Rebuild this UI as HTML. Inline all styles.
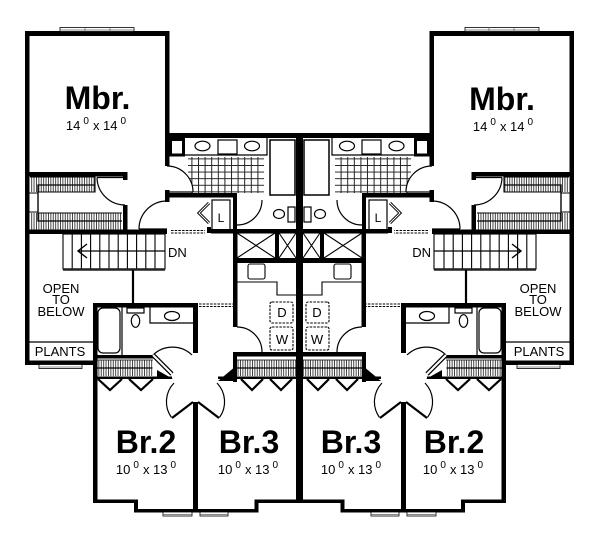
<!DOCTYPE html>
<html><head><meta charset="utf-8"><style>
html,body{margin:0;padding:0;background:#fff;}
svg{display:block;}
text{font-family:"Liberation Sans",Arial,sans-serif;fill:#000;}
</style></head><body>
<svg width="600" height="533" viewBox="0 0 600 533" xmlns="http://www.w3.org/2000/svg">
<defs>
<pattern id="tile" width="6.6" height="6.6" patternUnits="userSpaceOnUse"><path d="M0,0.5H6.6M0.5,0V6.6" stroke="#222" stroke-width="1" fill="none"/></pattern>
<pattern id="tick" width="2.4" height="40" patternUnits="userSpaceOnUse"><rect x="0" y="0" width="0.9" height="40" fill="#333"/></pattern>
<g id="half">
  <rect x="188" y="157" width="76" height="36" fill="url(#tile)"/>
  <path d="M167,192 L193,192 A26,26 0 0 0 167,166 Z" fill="#fff"/>
  <g fill="#000">
    <rect x="25" y="31" width="144" height="5"/>
    <rect x="25" y="31" width="4.5" height="334"/>
    <rect x="165" y="31" width="4.5" height="135"/>
    <rect x="165" y="190" width="4.5" height="12"/>
    <rect x="165" y="133" width="135" height="5"/>
    <rect x="167" y="193" width="70" height="4.5"/>
    <rect x="233" y="196" width="4" height="37"/>
    <rect x="211" y="229" width="85" height="4.5"/>
    <rect x="207" y="227" width="4" height="6"/>
    <rect x="25" y="229.5" width="142" height="4.5"/>
    <rect x="25" y="172" width="102" height="4.5"/>
    <rect x="123" y="172" width="4.5" height="8"/>
    <rect x="123" y="205" width="4.5" height="25"/>
    <rect x="233" y="233" width="4.5" height="94"/>
    <rect x="275" y="233" width="4" height="25"/>
    <rect x="233" y="258" width="63" height="5"/>
    <rect x="233" y="352" width="63" height="4.5"/>
    <rect x="233" y="352" width="4" height="30"/>
    <rect x="93" y="303" width="105" height="4.5"/>
    <rect x="193" y="303" width="5" height="50"/>
    <rect x="93" y="303" width="4.5" height="200"/>
    <rect x="25" y="360.5" width="72" height="4.5"/>
    <rect x="93" y="355" width="60" height="3.5"/>
    <rect x="93" y="376.5" width="79" height="2.5"/>
    <rect x="218" y="376.5" width="78" height="2.5"/>
    <polygon points="157,370 173,379 157,379"/>
    <polygon points="218,381 236,366 236,381"/>
    <rect x="193" y="402" width="5" height="110.5"/>
    <rect x="93" y="499.5" width="45" height="3.5"/>
    <rect x="134" y="499.5" width="4" height="13"/>
    <rect x="134" y="509" width="64" height="3.5"/>
    <rect x="198" y="509" width="60" height="3.5"/>
    <rect x="254.5" y="499.5" width="4" height="13"/>
    <rect x="254.5" y="499.5" width="42" height="3.5"/>
  </g>
  <g fill="#fff" stroke="#000" stroke-width="0.8">
    <rect x="60" y="27.5" width="74" height="4"/>
    <path d="M85,27.5V31.5M110,27.5V31.5M60,30H134" fill="none" stroke="#666"/>
    <rect x="39" y="364.5" width="43" height="4"/>
    <path d="M39,367H82" fill="none" stroke="#666"/>
    <rect x="163" y="512" width="29" height="4"/>
    <path d="M163,514.5H192" fill="none" stroke="#666"/>
    <rect x="200" y="512" width="28" height="4"/>
    <path d="M200,514.5H228" fill="none" stroke="#666"/>
  </g>
  <g fill="none" stroke="#000">
    <rect x="170.5" y="139.5" width="13" height="15.5" stroke-width="3"/>
    <path d="M185,155H267V138" stroke-width="1.2"/>
    <ellipse cx="202.5" cy="146" rx="7.5" ry="4.8" stroke-width="1.2"/>
    <ellipse cx="252" cy="146" rx="7.5" ry="4.8" stroke-width="1.2"/>
    <rect x="218" y="140" width="19" height="14" stroke-width="1.2"/>
    <rect x="270" y="140" width="25" height="55" stroke-width="1.5"/>
    <path d="M167,192 L193,192 M193,192 A26,26 0 0 0 167,166" stroke-width="1.2"/>
    <ellipse cx="279" cy="214" rx="5.5" ry="4.5" stroke-width="1.2"/>
    <rect x="288" y="207" width="7" height="15" stroke-width="1.2"/>
    <path d="M237,225 A25,25 0 0 0 262,200" stroke-width="1.2"/>
    <rect x="212" y="200" width="18" height="30" stroke-width="1.2"/>
    <polyline points="209,203 199,213 209,223" stroke-width="3"/>
    <polyline points="209,203 199,213 209,223" stroke="#fff" stroke-width="1"/>
    <path d="M171,230.5H205M171,233H205" stroke-width="0.9" stroke-dasharray="2.5,1.2"/>
    <path d="M199,304H233M199,306.5H233" stroke-width="0.9" stroke-dasharray="2.5,1.2"/>
    <path d="M97,177.5H125 M97,177.5 A28,28 0 0 0 125,205" stroke-width="1.2"/>
    <path d="M139,229 H167 M139,229 A28,28 0 0 1 167,201" stroke-width="1.2"/>
  </g>
  <rect x="30" y="177" width="65" height="15" fill="url(#tick)"/>
  <rect x="30" y="213" width="92" height="16.5" fill="url(#tick)"/>
  <rect x="29.5" y="192" width="9" height="21" fill="#fff"/>
  <g fill="none" stroke="#000" stroke-width="1.1">
    <path d="M30,177H95V192H38V213H122"/>
    <polyline points="95,185 38,185 38,221 122,221" stroke-width="1.3"/>
    <path d="M29,193H38M29,212H38"/>
  </g>
  <g fill="none" stroke="#000">
    <rect x="63" y="234" width="102" height="35" stroke-width="1.1"/>
    <path d="M72.2,234V269M81.4,234V269M90.6,234V269M99.8,234V269M109,234V269M118.2,234V269M127.4,234V269M136.6,234V269M145.8,234V269M155,234V269" stroke-width="1.1"/>
    <path d="M78,251H165" stroke-width="1.2"/>
    <polyline points="87,244 78,251 87,258" stroke-width="1.4"/>
    <path d="M63,269.5H165" stroke-width="2.5" stroke="#222"/>
    <path d="M133,270V303" stroke-width="2.2"/>
    <path d="M29,342H93" stroke-width="1.2"/>
  </g>
  <g fill="none" stroke="#000" stroke-width="1.1">
    <path d="M237,233L275,258M275,233L237,258M279,233L296,258M296,233L279,258"/>
    <rect x="248" y="264" width="17" height="15" rx="2"/>
    <polyline points="237,282 277,282 277,295 296,295"/>
    <rect x="270" y="302" width="23" height="21" rx="2" stroke-dasharray="2.5,1.2"/>
    <rect x="270" y="327" width="23" height="23" rx="2" stroke-dasharray="2.5,1.2"/>
    <path d="M237,327 A25,25 0 0 1 262,352" stroke-width="1.2"/>
  </g>
  <g fill="none" stroke="#000" stroke-width="1.2">
    <rect x="98" y="308" width="22" height="45" rx="5"/>
    <path d="M122,307V355"/>
    <rect x="127" y="308" width="17" height="5"/>
    <ellipse cx="135.5" cy="321" rx="4.2" ry="6.3"/>
    <path d="M150,307V323H193"/>
    <ellipse cx="172" cy="316" rx="7.5" ry="4.5"/>
    <path d="M153,355 A28,28 0 0 1 192,355"/>
  </g>
  <line x1="153" y1="355" x2="172" y2="374" stroke="#000" stroke-width="4.5"/>
  <line x1="153" y1="355" x2="172" y2="374" stroke="#fff" stroke-width="2"/>
  <rect x="97.5" y="360" width="55" height="16" fill="url(#tick)"/>
  <rect x="237" y="360" width="59" height="16" fill="url(#tick)"/>
  <g fill="none" stroke="#000">
    <path d="M97.5,368H152.5M237,368H296" stroke-width="1.2"/>
    <path d="M97.5,360H153M237,360H296" stroke-width="0.8"/>
    <polyline points="98,379 110,390 122,379" stroke-width="2.2"/>
    <polyline points="129,379 141,390 153,379" stroke-width="2.2"/>
    <polyline points="241,379 252,390 263,379" stroke-width="2.2"/>
    <polyline points="270,379 281,390 292,379" stroke-width="2.2"/>
    <line x1="193" y1="402" x2="172" y2="418" stroke-width="2.2"/>
    <line x1="198" y1="402" x2="219" y2="418" stroke-width="2.2"/>
    <path d="M171.5,417.5 A27,27 0 0 1 174,383" stroke-width="1.2"/>
    <path d="M219.5,417.5 A27,27 0 0 0 217,383" stroke-width="1.2"/>
  </g>
</g>
</defs>
<rect x="0" y="0" width="600" height="533" fill="#fff"/>
<use href="#half"/>
<use href="#half" transform="matrix(-1,0,0,1,599,0)"/>
<rect x="296" y="133" width="7" height="370" fill="#000"/>

<text x="97.5" y="109" font-size="32" font-weight="bold" text-anchor="middle">Mbr.</text>
<text x="96" y="130" font-size="13" text-anchor="middle">14<tspan dx="3" dy="-6" font-size="10">0</tspan><tspan dx="4" dy="6">x 14</tspan><tspan dx="3" dy="-6" font-size="10">0</tspan></text>
<text x="168" y="257" font-size="13">DN</text>
<text x="221" y="222" font-size="12" text-anchor="middle">L</text>
<text x="61" y="293" font-size="13" text-anchor="middle">OPEN</text>
<text x="61" y="304" font-size="13" text-anchor="middle">TO</text>
<text x="61" y="316" font-size="13" text-anchor="middle">BELOW</text>
<text x="60" y="356" font-size="13" text-anchor="middle">PLANTS</text>
<text x="282" y="317" font-size="13" text-anchor="middle">D</text>
<text x="282" y="344" font-size="13" text-anchor="middle">W</text>
<text x="146" y="453" font-size="32" font-weight="bold" text-anchor="middle">Br.2</text>
<text x="146" y="474" font-size="13" text-anchor="middle">10<tspan dx="3" dy="-6" font-size="10">0</tspan><tspan dx="4" dy="6">x 13</tspan><tspan dx="3" dy="-6" font-size="10">0</tspan></text>
<text x="249" y="453" font-size="32" font-weight="bold" text-anchor="middle">Br.3</text>
<text x="248" y="474" font-size="13" text-anchor="middle">10<tspan dx="3" dy="-6" font-size="10">0</tspan><tspan dx="4" dy="6">x 13</tspan><tspan dx="3" dy="-6" font-size="10">0</tspan></text>

<text x="502" y="110" font-size="32" font-weight="bold" text-anchor="middle">Mbr.</text>
<text x="503" y="131" font-size="13" text-anchor="middle">14<tspan dx="3" dy="-6" font-size="10">0</tspan><tspan dx="4" dy="6">x 14</tspan><tspan dx="3" dy="-6" font-size="10">0</tspan></text>
<text x="431" y="257" font-size="13" text-anchor="end">DN</text>
<text x="378" y="222" font-size="12" text-anchor="middle">L</text>
<text x="538" y="293" font-size="13" text-anchor="middle">OPEN</text>
<text x="538" y="304" font-size="13" text-anchor="middle">TO</text>
<text x="538" y="316" font-size="13" text-anchor="middle">BELOW</text>
<text x="539" y="356" font-size="13" text-anchor="middle">PLANTS</text>
<text x="317" y="317" font-size="13" text-anchor="middle">D</text>
<text x="317" y="344" font-size="13" text-anchor="middle">W</text>
<text x="351" y="453" font-size="32" font-weight="bold" text-anchor="middle">Br.3</text>
<text x="351" y="474" font-size="13" text-anchor="middle">10<tspan dx="3" dy="-6" font-size="10">0</tspan><tspan dx="4" dy="6">x 13</tspan><tspan dx="3" dy="-6" font-size="10">0</tspan></text>
<text x="454" y="453" font-size="32" font-weight="bold" text-anchor="middle">Br.2</text>
<text x="453" y="474" font-size="13" text-anchor="middle">10<tspan dx="3" dy="-6" font-size="10">0</tspan><tspan dx="4" dy="6">x 13</tspan><tspan dx="3" dy="-6" font-size="10">0</tspan></text>
</svg>
</body></html>
